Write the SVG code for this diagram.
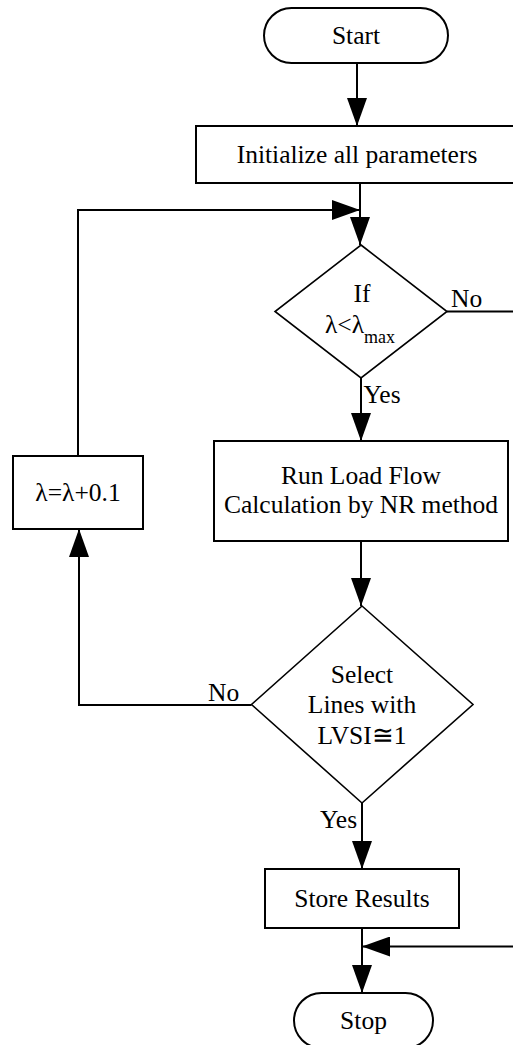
<svg xmlns="http://www.w3.org/2000/svg" width="513" height="1045" viewBox="0 0 513 1045">
  <defs>
    <style>
      .shape { fill: #ffffff; stroke: #000000; stroke-width: 2; }
      .dia { fill: #ffffff; stroke: #000000; stroke-width: 1.6; }
      .wire { fill: none; stroke: #000000; stroke-width: 2; }
      .txt { font-family: "Liberation Serif", "Times New Roman", "DejaVu Serif", serif; font-size: 25.5px; fill: #000000; }
      .mid { text-anchor: middle; }
    </style>
    <marker id="arrow" markerUnits="userSpaceOnUse" markerWidth="28" markerHeight="20" refX="28" refY="10" orient="auto">
      <path d="M0,0 L28,10 L0,20 Z" fill="#000000"/>
    </marker>
  </defs>

  <rect width="513" height="1045" fill="#ffffff"/>

  <!-- connectors -->
  <g id="connectors">
    <path class="wire" d="M357,63 V126" marker-end="url(#arrow)"/>
    <path class="wire" d="M360,183 V245" marker-end="url(#arrow)"/>
    <path class="wire" d="M78,456 V210 H360" marker-end="url(#arrow)"/>
    <path class="wire" d="M447,311.5 H520"/>
    <path class="wire" d="M361,378 V441" marker-end="url(#arrow)"/>
    <path class="wire" d="M361,541 V606" marker-end="url(#arrow)"/>
    <path class="wire" d="M251.5,705 H79 V529" marker-end="url(#arrow)"/>
    <path class="wire" d="M362,803 V869" marker-end="url(#arrow)"/>
    <path class="wire" d="M362,928 V993" marker-end="url(#arrow)"/>
    <path class="wire" d="M520,946.5 H362" marker-end="url(#arrow)"/>
    <text class="txt" x="451" y="307">No</text>
    <text class="txt" x="363.5" y="403">Yes</text>
    <text class="txt" x="208" y="701">No</text>
    <text class="txt" x="320" y="828">Yes</text>
  </g>

  <g id="start">
    <rect class="shape" x="264" y="8" width="184" height="55" rx="27.5" ry="27.5"/>
    <text class="txt mid" x="356" y="44">Start</text>
  </g>

  <g id="init">
    <rect class="shape" x="196" y="126" width="335" height="57"/>
    <text class="txt mid" x="357" y="163">Initialize all parameters</text>
  </g>

  <g id="check-lambda">
    <polygon class="dia" points="361,245 447,311.5 361,378 275,311.5"/>
    <text class="txt mid" x="362" y="302">If</text>
    <text class="txt mid" x="360" y="333">λ&lt;λ<tspan font-size="18" dy="10">max</tspan></text>
  </g>

  <g id="increment">
    <rect class="shape" x="13" y="456" width="130" height="73"/>
    <text class="txt mid" x="78" y="501">λ=λ+0.1</text>
  </g>

  <g id="load-flow">
    <rect class="shape" x="214" y="441" width="294" height="100"/>
    <text class="txt mid" x="361" y="484">Run Load Flow</text>
    <text class="txt mid" x="361" y="513">Calculation by NR method</text>
  </g>

  <g id="select-lines">
    <polygon class="dia" points="362,606 473,704.5 362,803 251.5,704.5"/>
    <text class="txt mid" x="362" y="683">Select</text>
    <text class="txt mid" x="362" y="713">Lines with</text>
    <text class="txt mid" x="362" y="744">LVSI≅1</text>
  </g>

  <g id="store">
    <rect class="shape" x="265" y="869" width="194" height="59"/>
    <text class="txt mid" x="362" y="907">Store Results</text>
  </g>

  <g id="stop">
    <rect class="shape" x="294" y="993" width="139" height="55" rx="27.5" ry="27.5"/>
    <text class="txt mid" x="363.5" y="1029">Stop</text>
  </g>
</svg>
